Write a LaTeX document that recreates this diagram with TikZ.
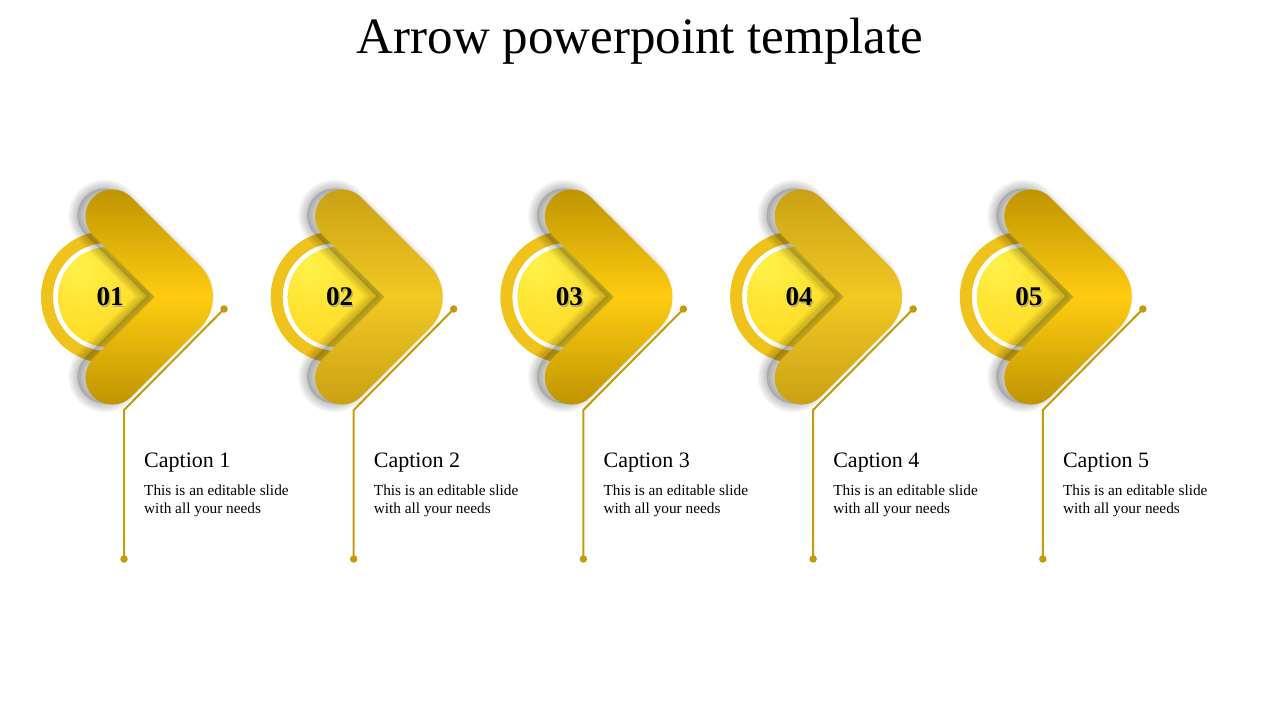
\documentclass[tikz,border=0pt]{standalone}
\usepackage{fontspec}
\setmainfont{Liberation Serif}
\definecolor{chevAtop}{HTML}{BD9300}
\definecolor{chevAmid}{HTML}{FFCC10}
\definecolor{chevBtop}{HTML}{C8A014}
\definecolor{chevBmid}{HTML}{F2C823}
\definecolor{ringc}{HTML}{F0C21C}
\definecolor{ballhi}{HTML}{FFF24A}
\definecolor{ballmid}{HTML}{FFD61E}
\definecolor{balledge}{HTML}{F2BC08}
\definecolor{connc}{HTML}{C49B0C}
\pgfdeclareradialshading{ballshade}{\pgfpoint{-16bp}{16bp}}{color(0bp)=(ballhi); color(14bp)=(ballhi!60!ballmid); color(40bp)=(ballmid); color(62bp)=(balledge); color(80bp)=(balledge)}
\newcommand\ChevPath{(-38.2,0) -- (-99.7,61.5) arc[start angle=225,end angle=45,radius=27] -- (7.1,31.1) arc[start angle=45,end angle=-45,radius=44] -- (-61.5,-99.7) arc[start angle=-45,end angle=-225,radius=27] -- cycle}
\tikzset{
  titletext/.style={font=\fontsize{51}{51}\selectfont, inner sep=0, anchor=base},
  numtxt/.style={font=\fontsize{27}{27}\selectfont\bfseries, inner sep=0},
  captxt/.style={font=\fontsize{22}{22}\selectfont, inner sep=0, anchor=base west},
  bodytxt/.style={font=\fontsize{15.3}{18}\selectfont, inner sep=0, anchor=north west, align=left},
  conn/.style={draw=connc, line width=2pt},
  dotn/.style={circle, fill=connc, inner sep=0, minimum size=7.5pt},
  ringfill/.style={fill=ringc, even odd rule}
}
\begin{document}
\begin{tikzpicture}[x=1pt,y=-1pt]
\useasboundingbox[fill=white] (0,0) rectangle (1280,720);
\node[titletext] (title) at (640,53) {Arrow powerpoint template};
\foreach \i in {1,...,5}{
  \pgfmathsetmacro\X{(\i-1)*229.7}
  \ifodd\i \def\ctop{chevAtop}\def\cmid{chevAmid}\else \def\ctop{chevBtop}\def\cmid{chevBmid}\fi
  \begin{scope}[shift={(\X,0)}]
    \fill[ringfill] (107,297) circle[radius=66] (107,297) circle[radius=54];
    \shade[shading=ballshade] (108,297) circle[radius=50];
    \begin{scope}[shift={(193,297)}, yscale=-1]
      \begin{scope}[shift={(-8,1)}]
        \fill[black,opacity=0.16] \ChevPath;
        \foreach \w in {3,6,9,12,15,18}{\draw[black,opacity=0.035,line width=\w pt,line join=round] \ChevPath;}
      \end{scope}
      \shade[top color=\ctop, bottom color=\ctop, middle color=\cmid] \ChevPath;
    \end{scope}
    \node[numtxt, text=black!50, opacity=0.5] at (111.5,298.5) {0\i};
    \node[numtxt] (n\i) at (110,297) {0\i};
    \node[dotn] (dt\i) at (224,309) {};
    \coordinate (bend\i) at (124,410);
    \node[dotn] (db\i) at (124,559) {};
    \draw[conn] (dt\i.center) -- (bend\i) -- (db\i.center);
    \node[captxt] (cap\i) at (144,467) {Caption \i};
    \node[bodytxt] (body\i) at (144,485) {This is an editable slide\\with all your needs};
  \end{scope}
}
\end{tikzpicture}
\end{document}
